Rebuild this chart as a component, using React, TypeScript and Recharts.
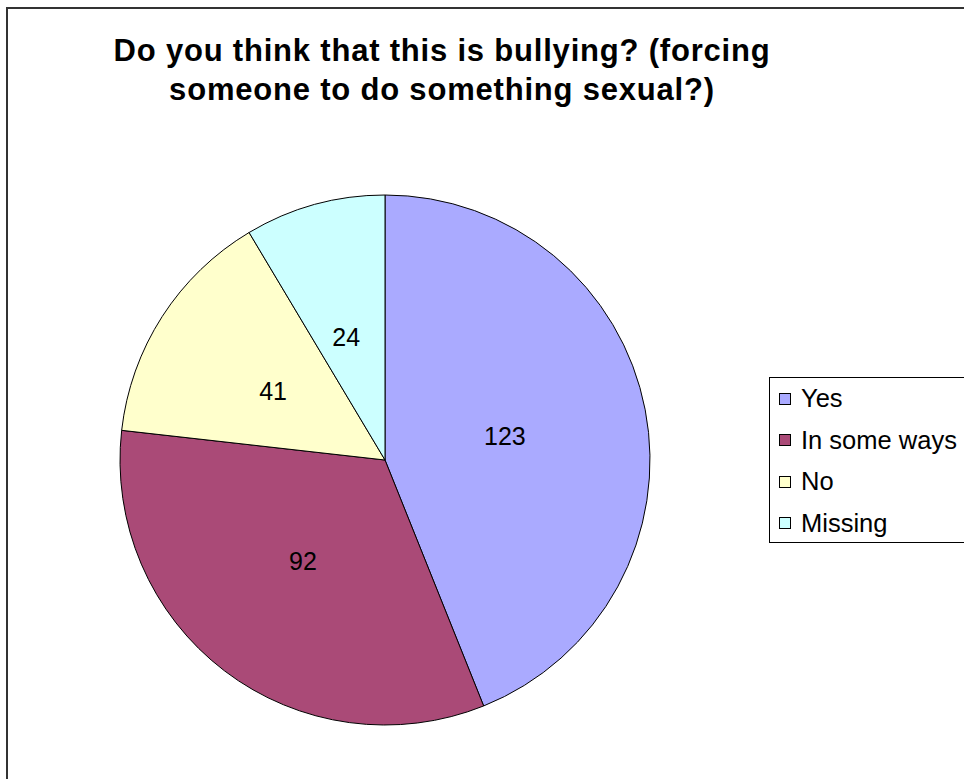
import React from 'react';
import { PieChart, Pie, Cell, Legend } from 'recharts';

const categories = ['Yes', 'In some ways', 'No', 'Missing'];
const counts = [123, 92, 41, 24];
const colors = ['#AAAAFF', '#AA4A77', '#FFFFCC', '#CCFFFF'];

const rows = categories.map((name, i) => ({ name, value: counts[i] }));

const FONT = '"Liberation Sans", Arial, sans-serif';
const RAD = Math.PI / 180;

interface LabelProps { cx: number; cy: number; midAngle: number; outerRadius: number; value: number }
const SliceLabel = ({ cx, cy, midAngle, outerRadius, value }: LabelProps) => {
  const r = outerRadius * 0.48;
  const x = cx + r * Math.cos(-midAngle * RAD) - 5;
  const y = cy + r * Math.sin(-midAngle * RAD);
  return (
    <text x={x} y={y} textAnchor="middle" dominantBaseline="central" fontSize={25} fill="#000" fontFamily={FONT}>
      {value}
    </text>
  );
};

const LegendBox = () => (
  <div style={{ border: '1px solid #000', background: '#fff', width: 200, height: 166, boxSizing: 'border-box', overflow: 'hidden' }}>
    {rows.map((r, i) => (
      <div key={r.name} style={{ display: 'flex', alignItems: 'center', height: 41.5, paddingLeft: 9, fontFamily: FONT, fontSize: 25.5, whiteSpace: 'nowrap' }}>
        <span style={{ width: 10, height: 10, background: colors[i], border: '1px solid #000', marginRight: 10, display: 'inline-block', flex: 'none' }} />
        <span style={{ lineHeight: '25px' }}>{r.name}</span>
      </div>
    ))}
  </div>
);

export default function App() {
  return (
    <div style={{ position: 'absolute', left: 0, top: 0, width: 964, height: 779, overflow: 'hidden', background: '#fff' }}>
      <div style={{ position: 'absolute', left: 6, top: 7, width: 980, height: 800, border: '2px solid #333', boxSizing: 'border-box' }} />
      <div style={{ position: 'absolute', left: 0, top: 31, width: 884, textAlign: 'center', fontFamily: FONT, fontWeight: 'bold', fontSize: 31, letterSpacing: 0.8, lineHeight: '39px', color: '#000', whiteSpace: 'nowrap' }}>
        Do you think that this is bullying? (forcing<br />someone to do something sexual?)
      </div>
      <PieChart width={964} height={779} margin={{ top: 0, right: 0, bottom: 0, left: 0 }} style={{ position: 'absolute', left: 0, top: 0 }}>
        <Pie
          data={rows}
          dataKey="value"
          nameKey="name"
          cx={385}
          cy={460}
          outerRadius={265}
          startAngle={90}
          endAngle={-270}
          stroke="#000"
          strokeWidth={1}
          label={SliceLabel}
          labelLine={false}
          isAnimationActive={false}
        >
          {rows.map((r, i) => <Cell key={r.name} fill={colors[i]} />)}
        </Pie>
        <Legend content={<LegendBox />} wrapperStyle={{ position: 'absolute', left: 769, top: 377, width: 200, height: 166 }} />
      </PieChart>
    </div>
  );
}
